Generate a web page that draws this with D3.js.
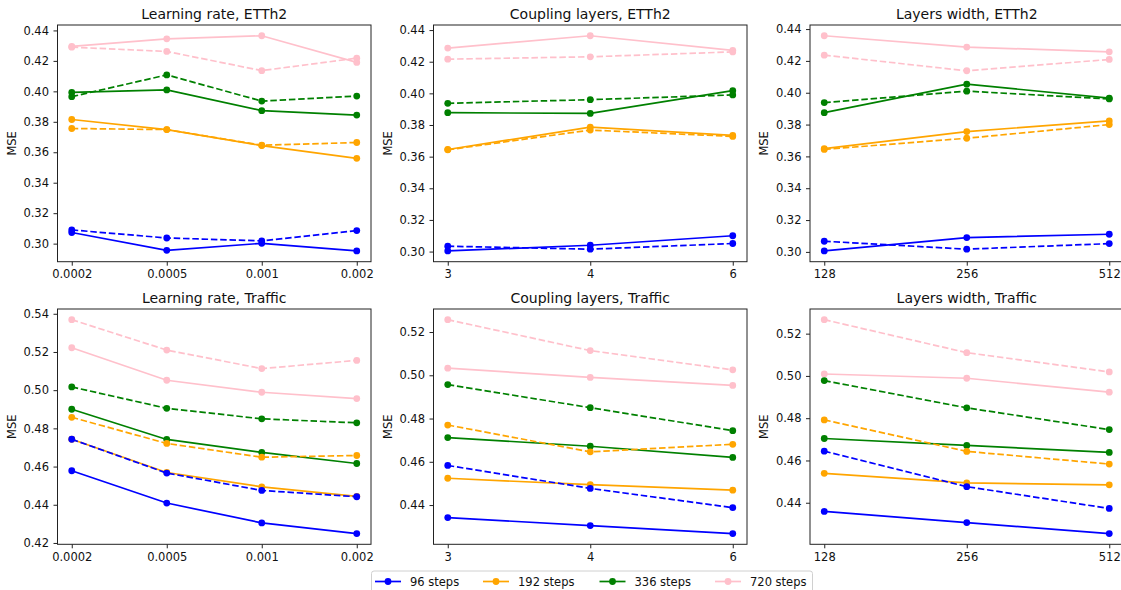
<!DOCTYPE html>
<html lang="en">
<head>
<meta charset="utf-8">
<title>MSE ablations</title>
<script src="https://cdn.jsdelivr.net/npm/d3@7"></script>
<style>
  body { margin: 0; background: #fff; }
  svg { font-family: "DejaVu Sans", sans-serif; }
  .axis path, .axis line { stroke: #222; stroke-width: 1; }
  .axis text { fill: #111; font-size: 11.5px; font-family: "DejaVu Sans", sans-serif; }
  .title { font-size: 14px; fill: #111; text-anchor: middle; }
  .ylabel { font-size: 11.5px; fill: #111; text-anchor: middle; }
</style>
</head>
<body>
<script>
// horizons / legend
var horizons = ["96 steps", "192 steps", "336 steps", "720 steps"];
var colors = ["blue", "orange", "green", "pink"];

// x categories
var lrTicks = ["0.0002", "0.0005", "0.001", "0.002"];
var couplingTicks = ["3", "4", "6"];
var widthTicks = ["128", "256", "512"];

// y tick labels
var etthYTicks = [0.30, 0.32, 0.34, 0.36, 0.38, 0.40, 0.42, 0.44];
var trafficLrYTicks = [0.42, 0.44, 0.46, 0.48, 0.50, 0.52, 0.54];
var trafficYTicks = [0.44, 0.46, 0.48, 0.50, 0.52];

// values: one row per horizon (96, 192, 336, 720)
var lrEtthSolid = [
  [0.3073, 0.2956, 0.3002, 0.2952],
  [0.3815, 0.3749, 0.3644, 0.3560],
  [0.3993, 0.4009, 0.3873, 0.3844],
  [0.4295, 0.4345, 0.4365, 0.4190]
];
var lrEtthDashed = [
  [0.3090, 0.3037, 0.3018, 0.3086],
  [0.3756, 0.3749, 0.3646, 0.3664],
  [0.3965, 0.4108, 0.3936, 0.3969],
  [0.4290, 0.4262, 0.4136, 0.4218]
];
var couplingEtthSolid = [
  [0.3004, 0.3040, 0.3100],
  [0.3645, 0.3787, 0.3734],
  [0.3878, 0.3873, 0.4017],
  [0.4286, 0.4364, 0.4272]
];
var couplingEtthDashed = [
  [0.3034, 0.3015, 0.3051],
  [0.3643, 0.3768, 0.3728],
  [0.3937, 0.3960, 0.3990],
  [0.4216, 0.4231, 0.4262]
];
var widthEtthSolid = [
  [0.3006, 0.3090, 0.3111],
  [0.3649, 0.3756, 0.3823],
  [0.3875, 0.4054, 0.3966],
  [0.4358, 0.4287, 0.4257]
];
var widthEtthDashed = [
  [0.3067, 0.3017, 0.3052],
  [0.3644, 0.3714, 0.3800],
  [0.3938, 0.4010, 0.3961],
  [0.4236, 0.4138, 0.4209]
];
var lrTrafficSolid = [
  [0.4578, 0.4409, 0.4305, 0.4249],
  [0.4743, 0.4569, 0.4494, 0.4444],
  [0.4900, 0.4742, 0.4674, 0.4616],
  [0.5222, 0.5052, 0.4989, 0.4956]
];
var lrTrafficDashed = [
  [0.4743, 0.4566, 0.4475, 0.4442],
  [0.4858, 0.4721, 0.4649, 0.4658],
  [0.5017, 0.4905, 0.4850, 0.4829],
  [0.5369, 0.5210, 0.5113, 0.5156]
];
var couplingTrafficSolid = [
  [0.4342, 0.4305, 0.4268],
  [0.4524, 0.4494, 0.4469],
  [0.4712, 0.4672, 0.4620],
  [0.5033, 0.4990, 0.4953]
];
var couplingTrafficDashed = [
  [0.4583, 0.4477, 0.4388],
  [0.4770, 0.4646, 0.4681],
  [0.4957, 0.4850, 0.4744],
  [0.5257, 0.5114, 0.5025]
];
var widthTrafficSolid = [
  [0.4359, 0.4306, 0.4254],
  [0.4539, 0.4494, 0.4485],
  [0.4704, 0.4671, 0.4638],
  [0.5009, 0.4989, 0.4923]
];
var widthTrafficDashed = [
  [0.4644, 0.4476, 0.4373],
  [0.4792, 0.4643, 0.4583],
  [0.4978, 0.4849, 0.4746],
  [0.5266, 0.5110, 0.5019]
];

var W = 1121, H = 590;
var panelW = 313.5;
var colX = [57.5, 433.5, 810];
var rowY = [[25, 261.7], [309, 544.3]];

var panels = [
  {title: "Learning rate, ETTh2", cats: lrTicks, solid: lrEtthSolid, dashed: lrEtthDashed, yTicks: etthYTicks, col: 0, row: 0},
  {title: "Coupling layers, ETTh2", cats: couplingTicks, solid: couplingEtthSolid, dashed: couplingEtthDashed, yTicks: etthYTicks, col: 1, row: 0},
  {title: "Layers width, ETTh2", cats: widthTicks, solid: widthEtthSolid, dashed: widthEtthDashed, yTicks: etthYTicks, col: 2, row: 0},
  {title: "Learning rate, Traffic", cats: lrTicks, solid: lrTrafficSolid, dashed: lrTrafficDashed, yTicks: trafficLrYTicks, col: 0, row: 1},
  {title: "Coupling layers, Traffic", cats: couplingTicks, solid: couplingTrafficSolid, dashed: couplingTrafficDashed, yTicks: trafficYTicks, col: 1, row: 1},
  {title: "Layers width, Traffic", cats: widthTicks, solid: widthTrafficSolid, dashed: widthTrafficDashed, yTicks: trafficYTicks, col: 2, row: 1}
];

var svg = d3.select("body").append("svg")
  .attr("width", W).attr("height", H);

panels.forEach(function(p) {
  var x0 = colX[p.col], y0 = rowY[p.row][0], y1 = rowY[p.row][1];
  var n = p.cats.length;

  var x = d3.scalePoint().domain(p.cats)
    .range([x0, x0 + panelW]).padding(0.05 * (n - 1));

  // matplotlib style autoscale: 5% margins
  var all = d3.merge(p.solid.concat(p.dashed));
  var lo = d3.min(all), hi = d3.max(all), r = hi - lo;
  var y = d3.scaleLinear().domain([lo - 0.05 * r, hi + 0.05 * r]).range([y1, y0]);

  var g = svg.append("g");

  g.append("g").attr("class", "axis")
    .attr("transform", "translate(0," + y1 + ")")
    .call(d3.axisBottom(x).tickSize(4).tickSizeOuter(0).tickPadding(4.5))
    .select(".domain").remove();

  g.append("g").attr("class", "axis")
    .attr("transform", "translate(" + x0 + ",0)")
    .call(d3.axisLeft(y).tickValues(p.yTicks).tickFormat(d3.format(".2f")).tickSize(4).tickSizeOuter(0).tickPadding(4.5))
    .select(".domain").remove();

  g.append("rect")
    .attr("x", x0).attr("y", y0)
    .attr("width", panelW).attr("height", y1 - y0)
    .attr("fill", "none").attr("stroke", "#222").attr("stroke-width", 1);

  g.append("text").attr("class", "title")
    .attr("x", x0 + panelW / 2).attr("y", y0 - 6.5)
    .text(p.title);

  g.append("text").attr("class", "ylabel")
    .attr("transform", "translate(" + (x0 - 42) + "," + ((y0 + y1) / 2) + ") rotate(-90)")
    .text("MSE");

  var line = d3.line()
    .x(function(d, i) { return x(p.cats[i]); })
    .y(function(d) { return y(d); });

  var series = [];
  p.solid.forEach(function(vals, i) { series.push({vals: vals, color: colors[i], dash: null}); });
  p.dashed.forEach(function(vals, i) { series.push({vals: vals, color: colors[i], dash: "6.5,2.8"}); });

  series.forEach(function(s) {
    var sg = g.append("g");
    sg.append("path")
      .attr("d", line(s.vals))
      .attr("fill", "none")
      .attr("stroke", s.color)
      .attr("stroke-width", 1.7)
      .attr("stroke-dasharray", s.dash);
    sg.selectAll("circle").data(s.vals).enter().append("circle")
      .attr("cx", function(d, i) { return x(p.cats[i]); })
      .attr("cy", function(d) { return y(d); })
      .attr("r", 3.4)
      .attr("fill", s.color);
  });
});

// legend
var legend = svg.append("g");
legend.append("rect")
  .attr("x", 371.5).attr("y", 571).attr("width", 441).attr("height", 26)
  .attr("rx", 2.5)
  .attr("fill", "#fff").attr("fill-opacity", 0.8)
  .attr("stroke", "#d0d0d0").attr("stroke-width", 1);

var legX = [375, 483, 599.5, 715];
var item = legend.selectAll(".item").data(horizons).enter().append("g")
  .attr("class", "item")
  .attr("transform", function(d, i) { return "translate(" + legX[i] + ",581.5)"; });
item.append("line")
  .attr("x1", 0).attr("x2", 26).attr("y1", 0).attr("y2", 0)
  .attr("stroke", function(d, i) { return colors[i]; })
  .attr("stroke-width", 1.7);
item.append("circle")
  .attr("cx", 13).attr("cy", 0).attr("r", 3.4)
  .attr("fill", function(d, i) { return colors[i]; });
item.append("text")
  .attr("x", 35).attr("y", 0).attr("dy", "0.35em")
  .style("font-size", "11.5px").style("fill", "#111")
  .text(function(d) { return d; });
</script>
</body>
</html>
